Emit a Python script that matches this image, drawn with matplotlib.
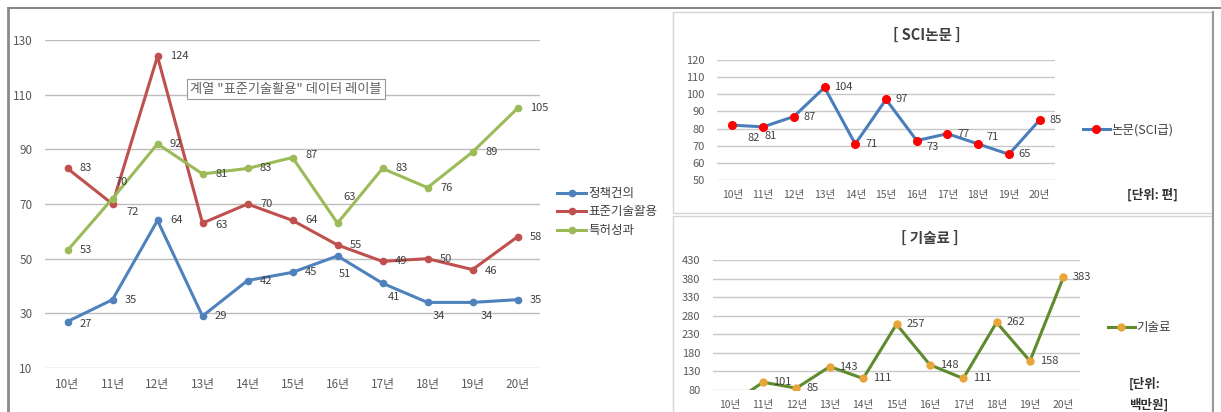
import matplotlib
matplotlib.use('Agg')
import matplotlib.pyplot as plt
from matplotlib.lines import Line2D
from matplotlib.patches import Rectangle

plt.rcParams['font.family'] = ['Noto Sans CJK KR', 'DejaVu Sans']

years = ['10년', '11년', '12년', '13년', '14년', '15년', '16년', '17년', '18년', '19년', '20년']

policy = [27, 35, 64, 29, 42, 45, 51, 41, 34, 34, 35]
standard = [83, 70, 124, 63, 70, 64, 55, 49, 50, 46, 58]
patent = [53, 72, 92, 81, 83, 87, 63, 83, 76, 89, 105]

sci = [82, 81, 87, 104, 71, 97, 73, 77, 71, 65, 85]
royalty = [40, 101, 85, 143, 111, 257, 148, 111, 262, 158, 383]

W, H = 1221, 412
fig = plt.figure(figsize=(W / 100, H / 100), dpi=100)

TXT = '#404040'
TICK = '#595959'


def px_axes(x0, y0, x1, y1):
    return fig.add_axes([x0 / W, 1 - y1 / H, (x1 - x0) / W, (y1 - y0) / H])


def style(ax, ymin, ymax, step, grid='#c8c8c8', xfs=8.5, yfs=8.5):
    ax.set_xlim(-0.5, len(years) - 0.5)
    ax.set_ylim(ymin, ymax)
    ax.set_yticks(range(ymin, ymax + 1, step))
    ax.set_xticks(range(len(years)))
    ax.set_xticklabels(years)
    for s in ax.spines.values():
        s.set_visible(False)
    ax.grid(axis='y', color=grid, lw=1.0)
    ax.set_axisbelow(True)
    ax.tick_params(length=0, colors=TICK, pad=9)
    ax.tick_params(axis='x', pad=7, labelsize=xfs)
    ax.tick_params(axis='y', labelsize=yfs)
    ax.patch.set_alpha(0)


def labels(ax, vals, default, special=None, fs=8):
    special = special or {}
    for i, v in enumerate(vals):
        off = special.get(i, default)
        ax.annotate(str(v), (i, v), xytext=off, textcoords='offset points',
                    ha='left', va='center', fontsize=fs, color=TXT)


# frame lines of the screenshot
fig.add_artist(Line2D([8 / W, 1], [1 - 8 / H] * 2, color='#707070', lw=1.2))
fig.add_artist(Line2D([8 / W, 8 / W], [0, 1 - 8 / H], color='#8a8a8a', lw=2))
fig.add_artist(Rectangle((673 / W, 1 - 213 / H), 539 / W, 201 / H, fill=False,
                         ec='#d4d4d4', lw=1))
fig.add_artist(Rectangle((673 / W, -0.01), 539 / W, 1 - 216 / H + 0.01, fill=False,
                         ec='#d4d4d4', lw=1))
fig.add_artist(Line2D([1213 / W, 1213 / W], [0, 1 - 12 / H], color='#9a9a9a', lw=1.5))

# main chart
ax = px_axes(45, 40, 540, 368)
style(ax, 10, 130, 20, grid='#bdbdbd', xfs=8.5, yfs=8.5)
ax.plot(policy, color='#4f81bd', lw=2.2, marker='o', ms=4.5, label='정책건의')
ax.plot(standard, color='#c0504d', lw=2.2, marker='o', ms=4.5, label='표준기술활용')
ax.plot(patent, color='#9bbb59', lw=2.2, marker='o', ms=4.5, label='특허성과')
labels(ax, policy, (9, 0), {0: (9, -1.5), 6: (1, -13), 7: (4, -10), 8: (4, -10), 9: (6, -10)})
labels(ax, standard, (9, 0), {1: (2, 16), 3: (9, -1), 9: (9, -1)})
labels(ax, patent, (9, 0), {1: (10, -10), 6: (4, 19), 5: (9, 1.5)})
ax.legend(loc='center left', bbox_to_anchor=(546 / W, 1 - 212 / H),
          bbox_transform=fig.transFigure, frameon=False, fontsize=9,
          handlelength=2.3, handletextpad=0.2, labelspacing=0.45,
          labelcolor=TXT)
fig.text(190 / W, 1 - 89 / H, '계열 "표준기술활용" 데이터 레이블', fontsize=9.5,
         color='#606060', va='center', ha='left',
         bbox=dict(boxstyle='square,pad=0.25', fc='white', ec='#9a9a9a', lw=0.8))

# SCI papers
ax2 = px_axes(717, 60, 1055, 180)
style(ax2, 50, 120, 10, grid='#c8c8c8', xfs=7.5, yfs=8)
ax2.plot(sci, color='#4a7ebb', lw=2.2, marker='o', ms=5.5,
         mfc='#ff0000', mec='#ff0000', label='논문(SCI급)')
labels(ax2, sci, (7, 0), {0: (11, -9), 1: (1, -6.5), 6: (7, -4.5), 8: (6, 5)})
ax2.legend(loc='center left', bbox_to_anchor=(1072 / W, 1 - 130 / H),
           bbox_transform=fig.transFigure, frameon=False, fontsize=9,
           handlelength=2.1, handletextpad=0.15, labelcolor=TXT)
fig.text(927 / W, 1 - 35 / H, '[ SCI논문 ]', ha='center', va='center',
         fontsize=10.5, fontweight='bold', color='#404040')
fig.text(1127 / W, 1 - 195 / H, '[단위: 편]', ha='left', va='center',
         fontsize=9, fontweight='bold', color='#303030')

# royalty
ax3 = px_axes(713, 260, 1080, 390)
style(ax3, 80, 430, 50, grid='#c8c8c8', xfs=7.5, yfs=8)
ax3.plot(royalty, color='#5f8a2e', lw=2.2, marker='o', ms=5,
         mfc='#e8a63a', mec='#e8a63a', label='기술료')
labels(ax3, royalty, (7, 0))
ax3.legend(loc='center left', bbox_to_anchor=(1097 / W, 1 - 328 / H),
           bbox_transform=fig.transFigure, frameon=False, fontsize=9,
           handlelength=2.1, handletextpad=0.15, labelcolor=TXT)
fig.text(930 / W, 1 - 238 / H, '[ 기술료 ]', ha='center', va='center',
         fontsize=10.5, fontweight='bold', color='#404040')
fig.text(1129 / W, 1 - 384 / H, '[단위:', ha='left', va='center',
         fontsize=9, fontweight='bold', color='#303030')
fig.text(1129 / W, 1 - 405 / H, '백만원]', ha='left', va='center',
         fontsize=9, fontweight='bold', color='#303030')

fig.savefig('out.png', dpi=100, facecolor='white')
